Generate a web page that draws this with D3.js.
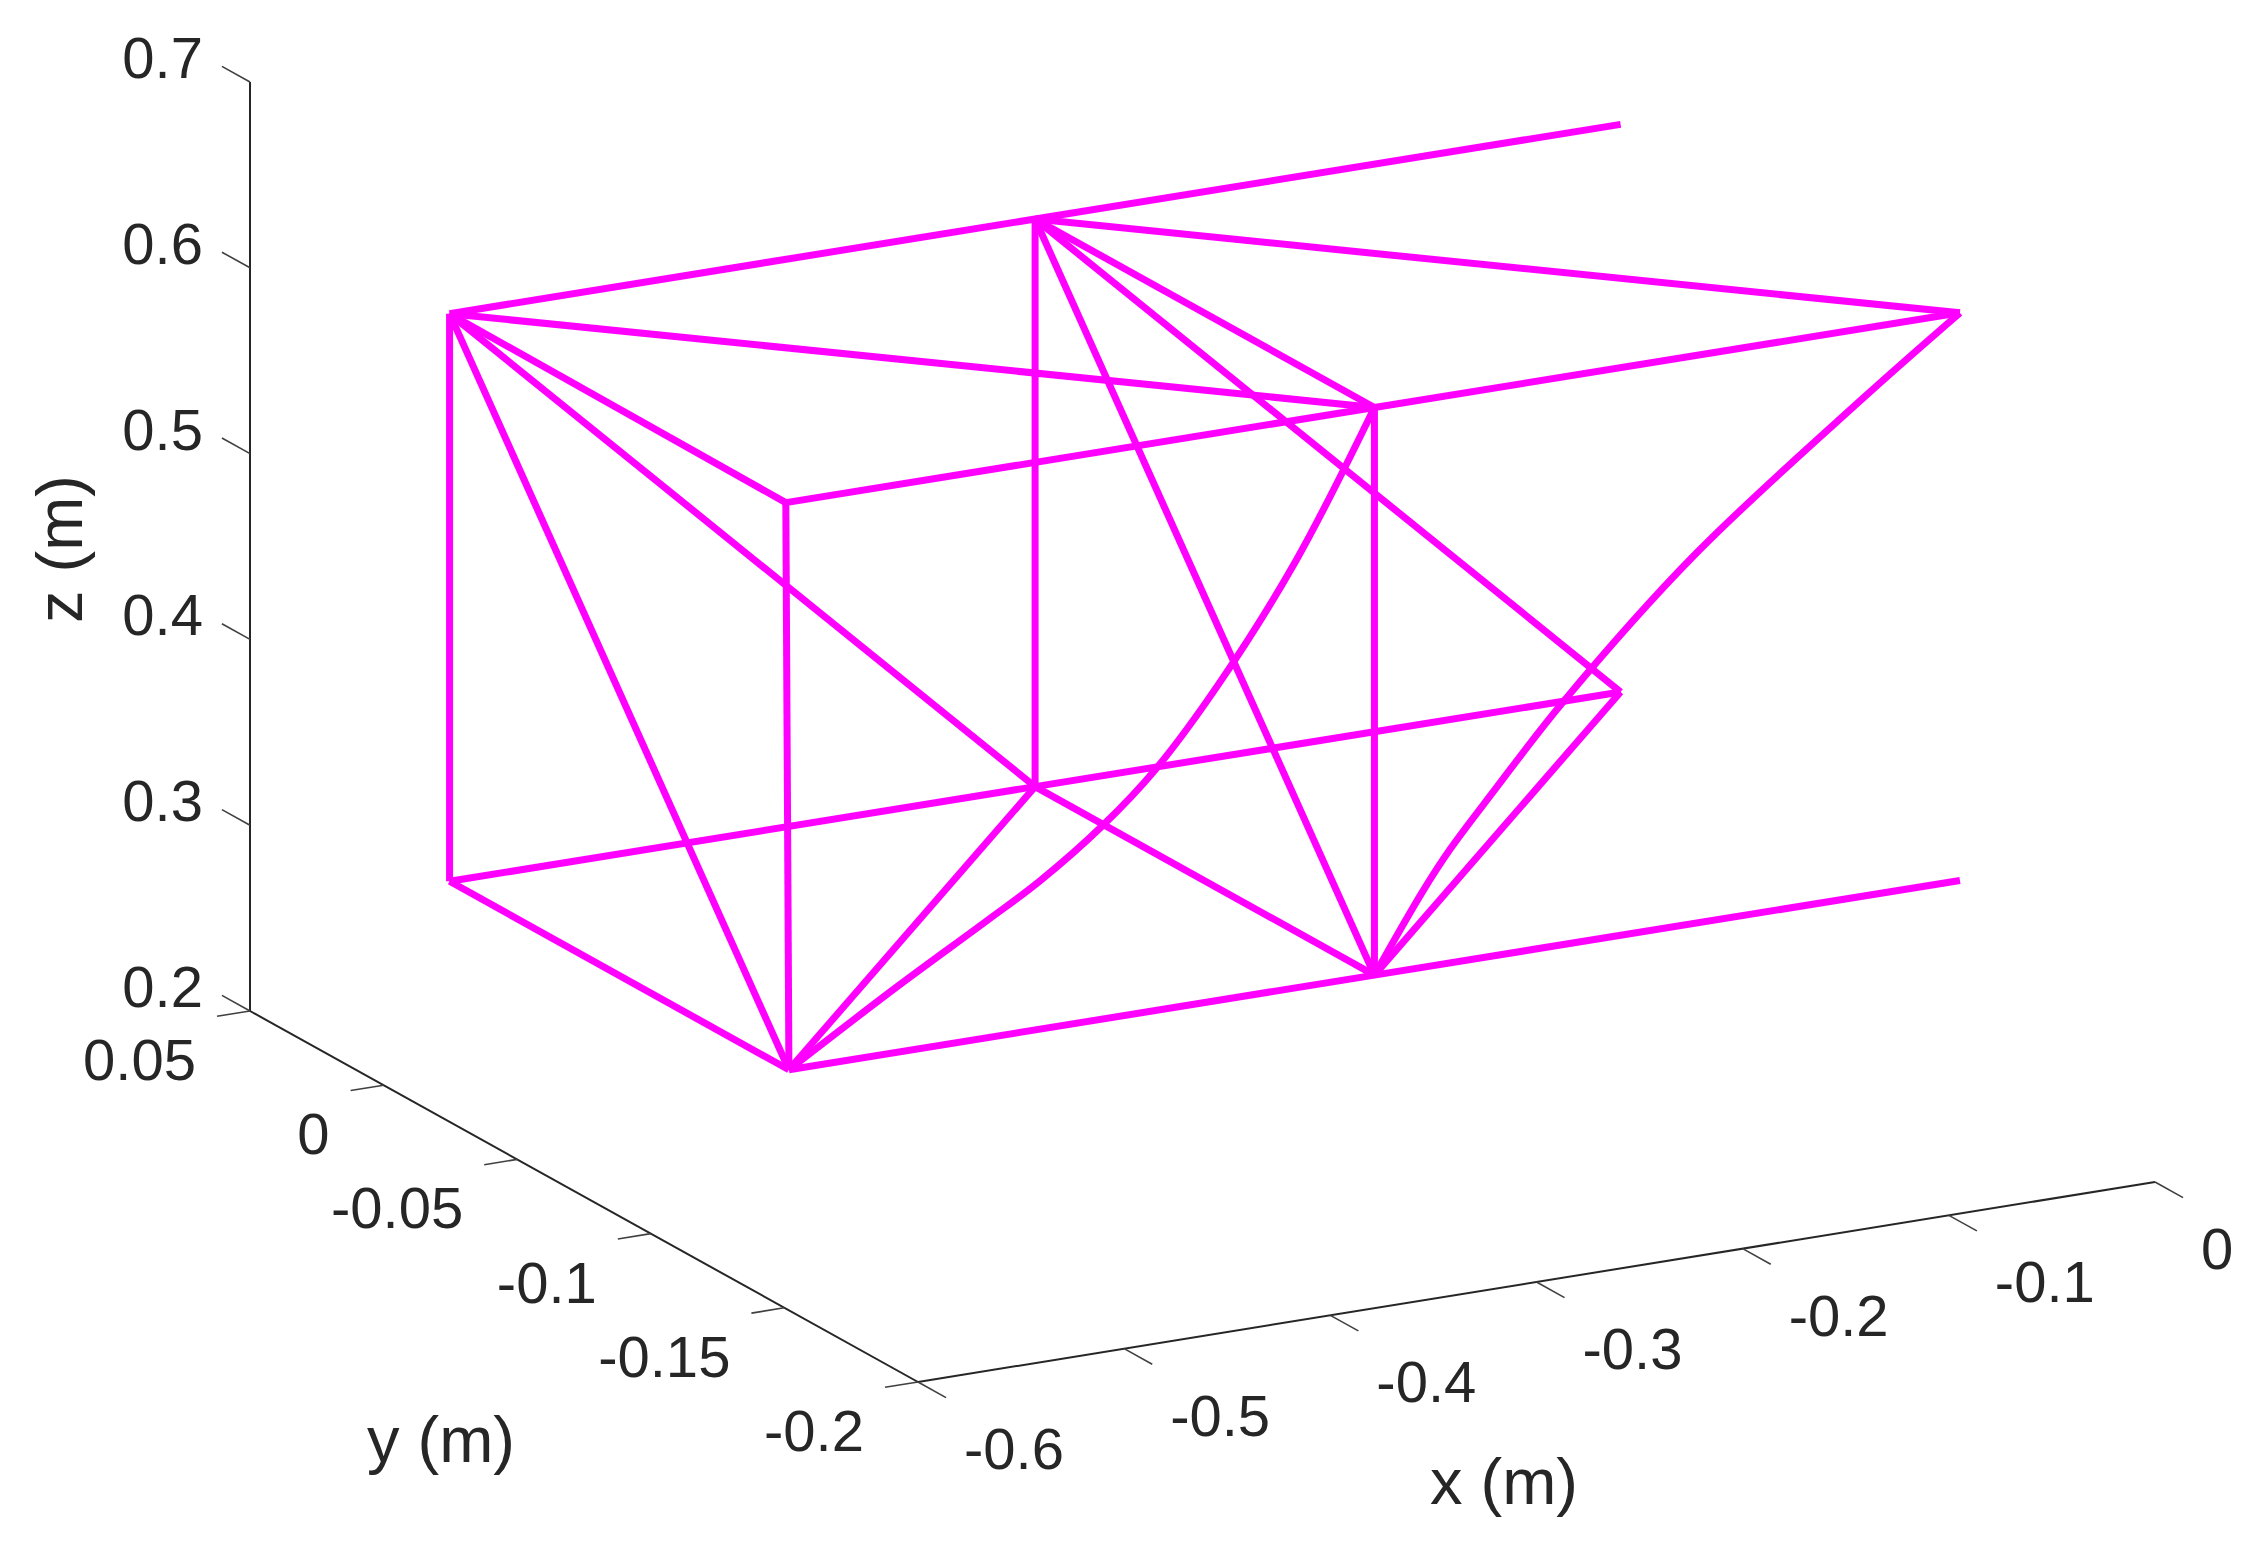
<!DOCTYPE html>
<html lang="en">

<head>
	<meta charset="UTF-8">
	<title>Frame in 3D</title>
	<script src="https://cdn.jsdelivr.net/npm/d3@7"></script>
	<style>
		html, body { margin: 0; padding: 0; background: #fff; }
		svg { display: block; }
		text { font-family: "Liberation Sans", Arial, sans-serif; fill: #262626; }
	</style>
</head>

<body>
	<div id="visualization"></div>
	<script>
		// Tick values
		const xTicks = [-0.6, -0.5, -0.4, -0.3, -0.2, -0.1, 0];
		const yTicks = [-0.2, -0.15, -0.1, -0.05, 0, 0.05];
		const zTicks = [0.2, 0.3, 0.4, 0.5, 0.6, 0.7];

		// Frame rails, running along x, as [x, y, z] in metres
		const railTopBack = [[-0.568, 0, 0.6095], [-0.284, 0, 0.6095], [0, 0, 0.6095]];
		const railBottomBack = [[-0.568, 0, 0.304], [-0.284, 0, 0.304], [0, 0, 0.304]];
		const railTopFront = [[-0.5695, -0.127, 0.6095], [-0.284, -0.127, 0.6095], [0, -0.127, 0.6095]];
		const railBottomFront = [[-0.568, -0.127, 0.304], [-0.284, -0.127, 0.304], [0, -0.127, 0.304]];

		// Posts and cross members
		const posts = [
			[[-0.568, 0, 0.6095], [-0.568, 0, 0.304]],
			[[-0.5695, -0.127, 0.6095], [-0.568, -0.127, 0.304]],
			[[-0.284, 0, 0.6095], [-0.284, 0, 0.304]],
			[[-0.284, -0.127, 0.6095], [-0.284, -0.127, 0.304]]
		];
		const crossMembers = [
			[[-0.568, 0, 0.6095], [-0.5695, -0.127, 0.6095]],
			[[-0.568, 0, 0.304], [-0.568, -0.127, 0.304]],
			[[-0.284, 0, 0.6095], [-0.284, -0.127, 0.6095]],
			[[-0.284, 0, 0.304], [-0.284, -0.127, 0.304]]
		];
		const braces = [
			[[-0.568, 0, 0.6095], [-0.284, -0.127, 0.6095]],
			[[-0.284, 0, 0.6095], [0, -0.127, 0.6095]],
			[[-0.568, 0, 0.6095], [-0.568, -0.127, 0.304]],
			[[-0.568, 0, 0.6095], [-0.284, 0, 0.304]],
			[[-0.284, 0, 0.6095], [-0.284, -0.127, 0.304]],
			[[-0.284, 0, 0.6095], [0, 0, 0.304]],
			[[-0.568, -0.127, 0.304], [-0.284, 0, 0.304]],
			[[-0.284, -0.127, 0.304], [0, 0, 0.304]]
		];

		// The two bent members
		const curveLeft = [
			[-0.568, -0.127, 0.304], [-0.516, -0.127, 0.339], [-0.472, -0.127, 0.367], [-0.446, -0.127, 0.384],
			[-0.416, -0.127, 0.408], [-0.39, -0.127, 0.434], [-0.359, -0.127, 0.475], [-0.322, -0.127, 0.534],
			[-0.284, -0.127, 0.6095]
		];
		const curveRight = [
			[-0.284, -0.127, 0.304], [-0.2605, -0.127, 0.345], [-0.2474, -0.127, 0.365], [-0.2266, -0.127, 0.392],
			[-0.193, -0.127, 0.434], [-0.129, -0.127, 0.502], [-0.047, -0.127, 0.572], [0, -0.127, 0.6095]
		];

		const width = 2260;
		const height = 1551;
		const lineColor = "#ff00ff";
		const axisColor = "#262626";

		const svg = d3.select("#visualization").append("svg")
			.attr("width", width)
			.attr("height", height);

		// Fixed oblique view: each data axis gets a horizontal and a vertical screen scale
		const cornerX = 918;
		const cornerY = 1382;
		const xAcross = d3.scaleLinear().domain([-0.6, 0]).range([0, 1237]);
		const xRise = d3.scaleLinear().domain([-0.6, 0]).range([0, -200]);
		const yAcross = d3.scaleLinear().domain([-0.2, 0.05]).range([0, -668]);
		const yRise = d3.scaleLinear().domain([-0.2, 0.05]).range([0, -371]);
		const zRise = d3.scaleLinear().domain([0.2, 0.7]).range([0, -929]);

		function project(p) {
			return [
				cornerX + xAcross(p[0]) + yAcross(p[1]),
				cornerY + xRise(p[0]) + yRise(p[1]) + zRise(p[2])
			];
		}
		const path3d = d3.line().x(d => project(d)[0]).y(d => project(d)[1]);
		const smooth3d = d3.line().x(d => project(d)[0]).y(d => project(d)[1]).curve(d3.curveCatmullRom.alpha(0.5));

		// Axes
		const xMin = -0.6, yMin = -0.2, yMax = 0.05, zMin = 0.2, zMax = 0.7;
		const axisLines = [
			[[xMin, yMin, zMin], [0, yMin, zMin]],
			[[xMin, yMin, zMin], [xMin, yMax, zMin]],
			[[xMin, yMax, zMin], [xMin, yMax, zMax]]
		];
		svg.append("g").selectAll("path")
			.data(axisLines)
			.enter().append("path")
			.attr("d", path3d)
			.attr("fill", "none")
			.attr("stroke", axisColor)
			.attr("stroke-width", 2);

		const xTickLines = xTicks.map(v => [[v, yMin, zMin], [v, yMin - 0.0105, zMin]]);
		const yTickLines = yTicks.map(v => [[xMin, v, zMin], [xMin - 0.016, v, zMin]]);
		const zTickLines = zTicks.map(v => [[xMin, yMax, v], [xMin, yMax + 0.0105, v]]);
		svg.append("g").selectAll("path")
			.data(xTickLines.concat(yTickLines, zTickLines))
			.enter().append("path")
			.attr("d", path3d)
			.attr("fill", "none")
			.attr("stroke", "#404040")
			.attr("stroke-width", 1.6);

		// Tick labels
		const tickFont = 58;
		const labelFont = 65;
		const tickFormat = v => String(v);

		svg.append("g").selectAll("text")
			.data(xTicks)
			.enter().append("text")
			.attr("x", d => project([d, yMin, zMin])[0] + 46)
			.attr("y", d => project([d, yMin, zMin])[1] + 87)
			.attr("text-anchor", "start")
			.attr("font-size", tickFont)
			.text(tickFormat);

		svg.append("g").selectAll("text")
			.data(yTicks)
			.enter().append("text")
			.attr("x", d => project([xMin, d, zMin])[0] - 54)
			.attr("y", d => project([xMin, d, zMin])[1] + 69)
			.attr("text-anchor", "end")
			.attr("font-size", tickFont)
			.text(tickFormat);

		svg.append("g").selectAll("text")
			.data(zTicks)
			.enter().append("text")
			.attr("x", d => project([xMin, yMax, d])[0] - 47)
			.attr("y", d => project([xMin, yMax, d])[1] - 4)
			.attr("text-anchor", "end")
			.attr("font-size", tickFont)
			.text(tickFormat);

		// Axis labels
		svg.append("text")
			.attr("x", 1504).attr("y", 1504)
			.attr("text-anchor", "middle")
			.attr("font-size", labelFont)
			.text("x (m)");
		svg.append("text")
			.attr("x", 441).attr("y", 1462)
			.attr("text-anchor", "middle")
			.attr("font-size", labelFont)
			.text("y (m)");
		svg.append("text")
			.attr("transform", "translate(82,549) rotate(-90)")
			.attr("text-anchor", "middle")
			.attr("font-size", labelFont)
			.text("z (m)");

		// Frame
		const members = [railTopBack, railBottomBack, railTopFront, railBottomFront]
			.concat(posts, crossMembers, braces);
		svg.append("g").selectAll("path")
			.data(members)
			.enter().append("path")
			.attr("d", path3d)
			.attr("fill", "none")
			.attr("stroke", lineColor)
			.attr("stroke-width", 7)
			.attr("stroke-linejoin", "round");
		svg.append("g").selectAll("path")
			.data([curveLeft, curveRight])
			.enter().append("path")
			.attr("d", smooth3d)
			.attr("fill", "none")
			.attr("stroke", lineColor)
			.attr("stroke-width", 7);
	</script>
</body>

</html>
